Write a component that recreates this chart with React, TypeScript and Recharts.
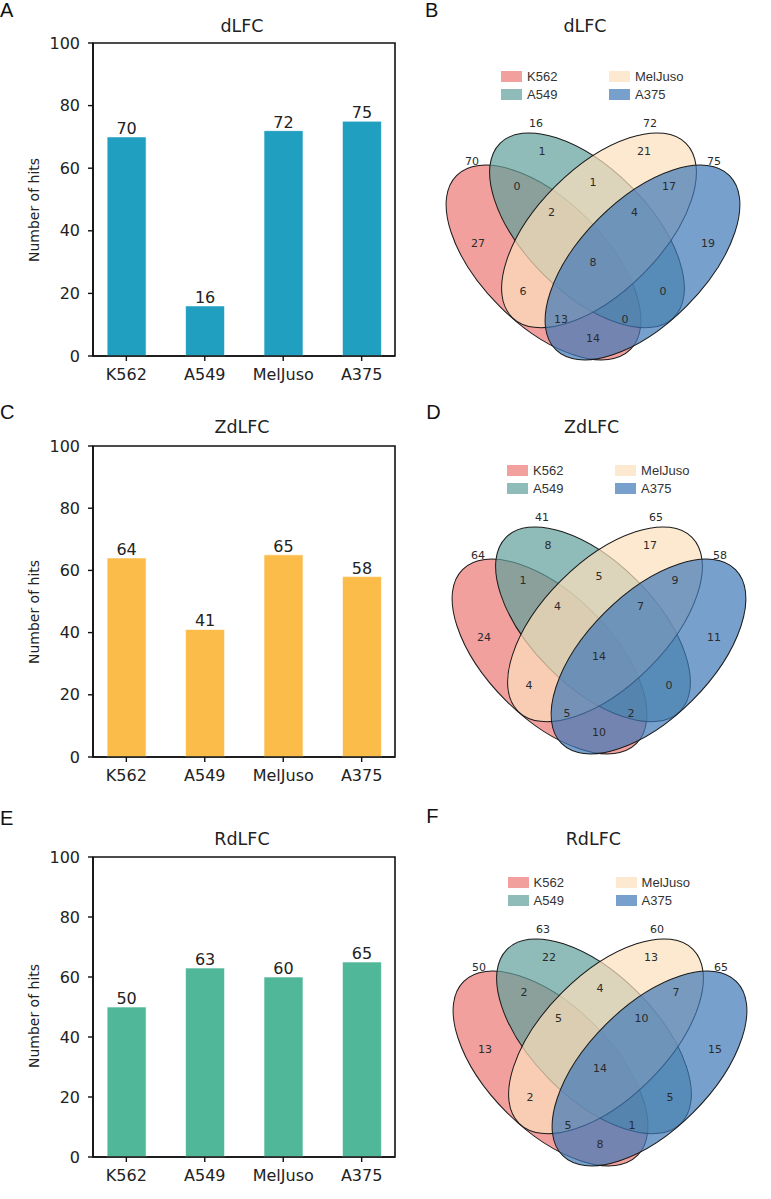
import React from 'react';
import { BarChart, Bar, XAxis, YAxis, LabelList, ReferenceArea, ScatterChart, Scatter } from 'recharts';

// cell lines, same order in every panel
const cellLines = ['K562', 'A549', 'MelJuso', 'A375'];
const setColors = ['#ec7774', '#5f9f9a', '#fcdfbc', '#3e77b8'];

// number of hits per metric
const dlfcHits = [70, 16, 72, 75];
const zdlfcHits = [64, 41, 65, 58];
const rdlfcHits = [50, 63, 60, 65];
const yTicks = [0, 20, 40, 60, 80, 100];

// venn regions, membership flags in cellLines order
const regionKeys = ['1000', '0100', '0010', '0001', '1100', '1010', '1001', '0110', '0101', '0011', '1110', '1101', '1011', '0111', '1111'];
const dlfcRegions = [27, 1, 21, 19, 0, 6, 14, 1, 0, 17, 2, 0, 13, 4, 8];
const zdlfcRegions = [24, 8, 17, 11, 1, 4, 10, 5, 0, 9, 4, 2, 5, 7, 14];
const rdlfcRegions = [13, 22, 13, 15, 2, 2, 8, 4, 5, 7, 5, 1, 5, 10, 14];

// 4-set ellipse layout, in venn units (1 unit = 1px)
const VENN_W = 310;
const VENN_H = 260;
const ELLIPSE_RX = 123;
const ELLIPSE_RY = 62;
const ellipseLayout = [
    { u: 103.5, v: 152.5, angle: 45 },
    { u: 147, v: 120.3, angle: 45 },
    { u: 159, v: 120.3, angle: -45 },
    { u: 202.5, v: 152.5, angle: -45 },
];
const regionLayout: Record<string, [number, number]> = {
    '1000': [38, 133], '0100': [102, 41], '0010': [204, 41], '0001': [268, 133],
    '1100': [77, 76], '1010': [83, 181], '1001': [153, 228.5], '0110': [153, 72],
    '0101': [223, 181], '0011': [229, 76], '1110': [111.5, 102], '1101': [185, 209.5],
    '1011': [121, 209.5], '0111': [194.5, 102], '1111': [153, 152.5],
};
const totalLayout: [number, number][] = [[32, 51], [96, 13], [210, 13], [274, 51]];

const SANS = 'DejaVu Sans';
const ARIAL = 'Liberation Sans';

const textAt = (x: number, y: number, text: string, size: number, family: string, extra: React.CSSProperties = {}) => (
    <div
        style={{
            position: 'absolute', left: x, top: y, transform: 'translate(-50%, -50%)',
            fontSize: size, fontFamily: family, lineHeight: 1, whiteSpace: 'nowrap', color: '#222', ...extra,
        }}
    >
        {text}
    </div>
);

const letterAt = (x: number, y: number, text: string) => (
    <div style={{ position: 'absolute', left: x, top: y - 10, fontSize: 20, lineHeight: '20px', fontFamily: ARIAL, color: '#111' }}>
        {text}
    </div>
);

type BarPanelProps = {
    hits: number[];
    color: string;
    title: string;
    letter: string;
    plotTop: number;
    plotH: number;
    letterY: number;
    titleY: number;
    labelY: number;
};

const BarPanel: React.FC<BarPanelProps> = ({ hits, color, title, letter, plotTop, plotH, letterY, titleY, labelY }) => {
    const data = cellLines.map((name, i) => ({ idx: i, name, hits: hits[i] }));
    const height = 43 + plotH + 30 + 10;
    return (
        <>
            {letterAt(0, letterY, letter)}
            {textAt(242, titleY, title, 17.5, SANS)}
            {textAt(33.5, labelY, 'Number of hits', 14, SANS, { transform: 'translate(-50%, -50%) rotate(-90deg)' })}
            <div style={{ position: 'absolute', left: 0, top: plotTop - 43 }}>
                <BarChart width={400} height={height} data={data} margin={{ top: 43, left: 33, right: 5, bottom: 10 }}>
                    <ReferenceArea x1={-0.425} x2={3.425} y1={0} y2={100} fill="none" stroke="#111" strokeWidth={1.6} ifOverflow="visible" />
                    <Bar dataKey="hits" fill={color} stroke="#ffffff" strokeOpacity={0.6} strokeWidth={1} barSize={39} isAnimationActive={false}>
                        <LabelList dataKey="hits" position="top" offset={3} style={{ fontSize: 16, fontFamily: SANS, fill: '#222' }} />
                    </Bar>
                    <XAxis
                        dataKey="idx"
                        type="number"
                        domain={[-0.425, 3.425]}
                        ticks={[0, 1, 2, 3]}
                        interval={0}
                        tickFormatter={(v: number) => cellLines[v]}
                        height={30}
                        tickSize={5}
                        tickMargin={8}
                        axisLine={{ stroke: '#111', strokeWidth: 1.6 }}
                        tickLine={{ stroke: '#111', strokeWidth: 1.4 }}
                        tick={{ fontSize: 16, fontFamily: SANS, fill: '#222' }}
                    />
                    <YAxis
                        type="number"
                        domain={[0, 100]}
                        ticks={yTicks}
                        width={60}
                        tickSize={5}
                        tickMargin={8}
                        axisLine={{ stroke: '#111', strokeWidth: 1.6 }}
                        tickLine={{ stroke: '#111', strokeWidth: 1.4 }}
                        tick={{ fontSize: 16, fontFamily: SANS, fill: '#222' }}
                    />
                </BarChart>
            </div>
        </>
    );
};

const EllipseShape = (props: any) => {
    const { cx, cy, payload } = props;
    return (
        <ellipse
            cx={cx}
            cy={cy}
            rx={ELLIPSE_RX}
            ry={ELLIPSE_RY}
            transform={`rotate(${payload.angle} ${cx} ${cy})`}
            fill={payload.color}
            fillOpacity={0.7}
            stroke="#1a1a1a"
            strokeWidth={1}
        />
    );
};

const CountShape = (props: any) => {
    const { cx, cy, payload } = props;
    return (
        <text x={cx} y={cy} dy="0.36em" textAnchor="middle" fontSize={11} fontFamily={SANS} fill="#2b2b2b">
            {payload.count}
        </text>
    );
};

type VennPanelProps = {
    regions: number[];
    totals: number[];
    title: string;
    letter: string;
    ox: number;
    oy: number;
    letterY: number;
    titleX: number;
    titleY: number;
};

const VennPanel: React.FC<VennPanelProps> = ({ regions, totals, title, letter, ox, oy, letterY, titleX, titleY }) => {
    const ellipses = ellipseLayout.map((e, i) => ({ ...e, color: setColors[i] }));
    const counts = regionKeys.map((k, i) => ({ u: regionLayout[k][0], v: regionLayout[k][1], count: regions[i] }));
    const totalPts = totals.map((t, i) => ({ u: totalLayout[i][0], v: totalLayout[i][1], count: t }));
    const left = 440 + ox;
    const top = 110 + oy;
    return (
        <>
            {letterAt(425 + ox * 0.2, letterY, letter)}
            {textAt(titleX, titleY, title, 17.5, SANS)}
            {cellLines.map((name, i) => {
                const sx = left + (i < 2 ? 61 : 169);
                const sy = top + (i % 2 === 0 ? -39 : -21);
                return (
                    <React.Fragment key={name}>
                        <div style={{ position: 'absolute', left: sx, top: sy, width: 21, height: 11, background: setColors[i], opacity: 0.7 }} />
                        <div style={{ position: 'absolute', left: sx + 26, top: sy - 1, fontSize: 13, lineHeight: '13px', fontFamily: ARIAL, color: '#333' }}>
                            {name}
                        </div>
                    </React.Fragment>
                );
            })}
            <div style={{ position: 'absolute', left, top }}>
                <ScatterChart width={VENN_W} height={VENN_H} margin={{ top: 0, left: 0, right: 0, bottom: 0 }} style={{ overflow: 'visible' }}>
                    <XAxis type="number" dataKey="u" domain={[0, VENN_W]} hide />
                    <YAxis type="number" dataKey="v" domain={[0, VENN_H]} reversed hide />
                    <Scatter data={ellipses} shape={EllipseShape} isAnimationActive={false} />
                    <Scatter data={counts} shape={CountShape} isAnimationActive={false} />
                    <Scatter data={totalPts} shape={CountShape} isAnimationActive={false} />
                </ScatterChart>
            </div>
        </>
    );
};

const App: React.FC = () => {
    return (
        <div style={{ position: 'absolute', left: 0, top: 0, width: 771, height: 1199, background: '#fff', overflow: 'hidden' }}>
            <BarPanel hits={dlfcHits} color="#209fc0" title="dLFC" letter="A" plotTop={43} plotH={313} letterY={10} titleY={27} labelY={209.5} />
            <BarPanel hits={zdlfcHits} color="#fbbc4a" title="ZdLFC" letter="C" plotTop={446} plotH={311} letterY={412} titleY={428} labelY={611.7} />
            <BarPanel hits={rdlfcHits} color="#50b898" title="RdLFC" letter="E" plotTop={857} plotH={300} letterY={818} titleY={840} labelY={1016} />
            <VennPanel regions={dlfcRegions} totals={dlfcHits} title="dLFC" letter="B" ox={0} oy={0} letterY={10} titleX={585} titleY={27} />
            <VennPanel regions={zdlfcRegions} totals={zdlfcHits} title="ZdLFC" letter="D" ox={6.1} oy={393.7} letterY={412} titleX={591.7} titleY={428.3} />
            <VennPanel regions={rdlfcRegions} totals={rdlfcHits} title="RdLFC" letter="F" ox={6.6} oy={805.5} letterY={816} titleX={593.3} titleY={840} />
        </div>
    );
};

export default App;
